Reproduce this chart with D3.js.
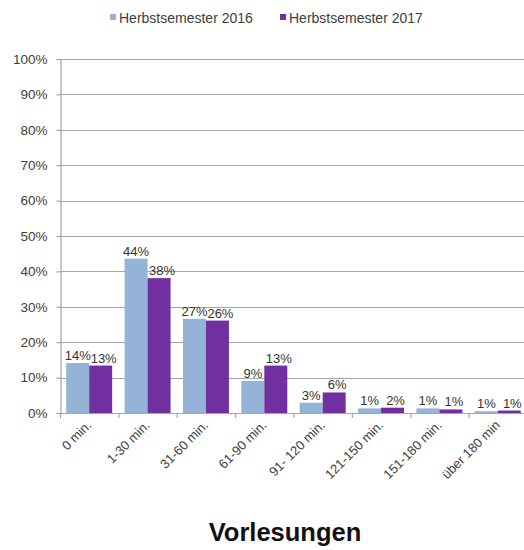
<!DOCTYPE html>
<html>
<head>
<meta charset="utf-8">
<script src="https://cdn.jsdelivr.net/npm/d3@7"></script>
<style>
  html, body { margin: 0; padding: 0; background: #fff; }
  svg { display: block; font-family: Arial, "Liberation Sans", sans-serif; }
</style>
</head>
<body>
<svg id="chart" width="524" height="550"></svg>
<script>
// Dauer der Vorlesungen – Anteile je Semester
const categories = ["0 min.", "1-30 min.", "31-60 min.", "61-90 min.", "91- 120 min.", "121-150 min.", "151-180 min.", "über 180 min"];
const seriesNames = ["Herbstsemester 2016", "Herbstsemester 2017"];
const hs2016 = [14.1, 43.6, 26.6, 9.1, 2.9, 1.3, 1.3, 0.5];
const hs2017 = [13.4, 38.1, 26.1, 13.4, 5.8, 1.5, 1.0, 0.7];
const yTicks = [0, 10, 20, 30, 40, 50, 60, 70, 80, 90, 100];
const colors = ["#95B3D7", "#7030A0"];
const title = "Vorlesungen";

const svg = d3.select("#chart");
const margin = { left: 60, top: 59, right: -3, bottom: 137 };
const W = 524, H = 550;
const x0 = margin.left, x1 = W - margin.right;
const yTop = margin.top, yBot = H - margin.bottom;

const x = d3.scaleBand().domain(categories).range([x0, x1]).paddingInner(0).paddingOuter(0);
const xs = d3.scaleBand().domain(seriesNames).range([0, x.bandwidth()]).paddingInner(0).paddingOuter(0.27);
const y = d3.scaleLinear().domain([0, 100]).range([yBot, yTop]);

const textColor = "#404040";
const gridColor = "#A6A6A6";

// gridlines
svg.append("g").selectAll("line").data(yTicks.filter(d => d > 0)).join("line")
  .attr("x1", x0).attr("x2", W)
  .attr("y1", d => Math.round(y(d)) + 0.5).attr("y2", d => Math.round(y(d)) + 0.5)
  .attr("stroke", gridColor).attr("stroke-width", 1.2);

// y axis
const yAxis = d3.axisLeft(y).tickValues(yTicks).tickSize(4).tickFormat(d => d + "%");
const gy = svg.append("g").attr("transform", `translate(${x0 + 0.5},0)`).call(yAxis);
gy.select(".domain").attr("stroke", gridColor).attr("stroke-width", 1.2);
gy.selectAll(".tick line").attr("stroke", gridColor).attr("stroke-width", 1.2);
gy.selectAll(".tick text").attr("fill", textColor).attr("font-size", 13.5).attr("x", -13);

// bars
const data = categories.map((c, i) => ({ c, vals: [hs2016[i], hs2017[i]] }));
const groups = svg.append("g").selectAll("g").data(data).join("g")
  .attr("transform", d => `translate(${x(d.c)},0)`);
groups.selectAll("rect").data(d => d.vals.map((v, j) => ({ v, s: seriesNames[j], j }))).join("rect")
  .attr("x", d => xs(d.s))
  .attr("width", xs.bandwidth())
  .attr("y", d => y(d.v))
  .attr("height", d => yBot - y(d.v))
  .attr("fill", d => colors[d.j]);

// value labels (second series nudged slightly right so neighbouring labels stay apart)
groups.selectAll("text").data(d => d.vals.map((v, j) => ({ v, s: seriesNames[j], j }))).join("text")
  .attr("x", d => xs(d.s) + xs.bandwidth() / 2 + (d.j === 1 ? 3 : 0))
  .attr("y", d => y(d.v) - 3)
  .attr("text-anchor", "middle")
  .attr("font-size", 13)
  .attr("fill", "#333")
  .text(d => Math.round(d.v) + "%");

// lift the taller bar's label only if the two labels of a group really overlap
groups.each(function () {
  const t = d3.select(this).selectAll("text").nodes();
  if (t.length < 2) return;
  const a = t[0].getBBox(), b = t[1].getBBox();
  const xOverlap = a.x < b.x + b.width - 1 && b.x < a.x + a.width - 1;
  const yOverlap = a.y < b.y + b.height && b.y < a.y + a.height;
  if (xOverlap && yOverlap) {
    const hiIdx = a.y <= b.y ? 0 : 1;
    const hi = hiIdx === 0 ? a : b, lo = hiIdx === 0 ? b : a;
    const shift = hi.y + hi.height - lo.y + 1;
    const node = d3.select(t[hiIdx]);
    node.attr("y", +node.attr("y") - shift);
  }
});

// x axis
const xAxisLine = svg.append("g");
xAxisLine.append("line").attr("x1", x0).attr("x2", W)
  .attr("y1", yBot + 0.5).attr("y2", yBot + 0.5)
  .attr("stroke", gridColor).attr("stroke-width", 1.2);
xAxisLine.selectAll(".tk").data(categories).join("line").attr("class", "tk")
  .attr("x1", d => x(d) + 0.5).attr("x2", d => x(d) + 0.5)
  .attr("y1", yBot).attr("y2", yBot + 5)
  .attr("stroke", gridColor).attr("stroke-width", 1.2);
xAxisLine.selectAll("text").data(categories).join("text")
  .attr("transform", d => `translate(${x(d) + x.bandwidth() / 2 + 3},${yBot + 13}) rotate(-45)`)
  .attr("text-anchor", "end")
  .attr("font-size", 13)
  .attr("fill", textColor)
  .text(d => d);

// legend
const legend = svg.append("g");
const legendX = [110, 280];
seriesNames.forEach((s, i) => {
  legend.append("rect").attr("x", legendX[i]).attr("y", 14).attr("width", 6).attr("height", 6).attr("fill", colors[i]);
  legend.append("text").attr("x", legendX[i] + 9).attr("y", 23)
    .attr("font-size", 14).attr("fill", textColor).text(s);
});

// title
svg.append("text").attr("x", 285).attr("y", 541)
  .attr("text-anchor", "middle").attr("font-size", 25.5).attr("font-weight", "bold")
  .attr("fill", "#111").text(title);
</script>
</body>
</html>
